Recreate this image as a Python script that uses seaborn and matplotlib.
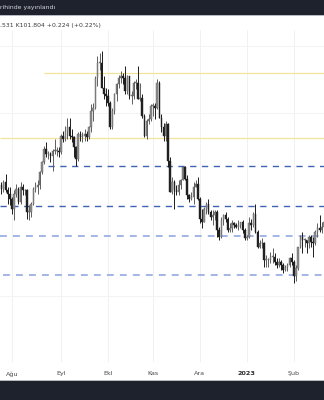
import numpy as np
import pandas as pd
import matplotlib
matplotlib.use("Agg")
import matplotlib.pyplot as plt
import seaborn as sns
from matplotlib.patches import Rectangle

# ---------------- data ----------------
start_date = "2022-07-25"
opens = [106.7, 106.5, 106.9, 106.4, 106.2, 105.9, 105.3, 106.2, 106.5, 105.7,
         106.6, 106.4, 106.4, 105.1, 105.1, 105.6, 106.5, 106.6, 106.7, 107.5,
         108.1, 108.9, 108.6, 108.6, 108.5, 108.8, 108.8, 108.8, 108.7, 109.7,
         109.5, 110.0, 110.2, 109.7, 109.6, 109.0, 108.3, 109.8, 109.6, 109.7,
         109.8, 109.6, 110.2, 111.2, 111.4, 113.2, 114.1, 114.1, 112.6, 112.2,
         112.1, 111.7, 110.2, 111.2, 112.2, 112.8, 113.2, 113.3, 113.2, 112.4,
         113.3, 112.1, 112.1, 112.9, 112.9, 111.9, 112.0, 110.9, 109.7, 110.6,
         110.7, 111.5, 111.5, 111.4, 112.9, 110.8, 110.2, 109.7, 110.4, 108.2,
         106.3, 106.9, 106.4, 106.3, 106.7, 107.0, 107.8, 107.1, 106.1, 105.9,
         106.0, 106.6, 106.8, 105.9, 104.7, 104.5, 105.3, 105.6, 105.1, 104.8,
         104.9, 105.1, 104.0, 103.6, 104.6, 104.9, 104.7, 104.0, 104.1, 104.4,
         104.3, 104.2, 104.3, 104.5, 104.0, 103.5, 103.6, 104.4, 104.3, 105.0,
         103.9, 103.0, 103.2, 103.2, 102.2, 102.2, 102.2, 102.4, 102.4, 102.1,
         101.9, 102.1, 101.9, 101.6, 101.8, 101.9, 102.3, 102.1, 101.2, 101.7,
         103.0, 103.6, 103.4, 103.4, 103.2, 103.6, 103.3, 103.2, 103.9, 104.1,
         104.0, 104.2]
highs = [106.9, 107.0, 107.4, 106.6, 106.6, 106.0, 106.4, 106.8, 106.6, 106.9,
         106.8, 106.5, 106.5, 105.5, 105.7, 106.6, 106.9, 107.0, 107.6, 108.2,
         109.1, 109.3, 108.8, 108.7, 108.9, 109.5, 109.0, 109.0, 109.8, 110.0,
         110.3, 110.8, 110.8, 110.1, 109.7, 109.1, 109.9, 110.0, 109.9, 110.1,
         110.0, 110.3, 111.6, 111.7, 113.3, 114.5, 114.7, 114.8, 113.3, 112.6,
         112.5, 111.8, 111.4, 112.3, 112.9, 113.4, 113.6, 113.5, 113.9, 113.4,
         113.3, 112.4, 113.0, 113.1, 113.9, 112.9, 112.2, 111.0, 110.7, 111.0,
         111.6, 111.7, 111.7, 113.1, 113.0, 111.0, 110.5, 110.6, 110.5, 108.4,
         107.2, 107.0, 106.7, 107.0, 107.1, 107.9, 107.9, 107.3, 106.2, 106.3,
         106.9, 107.0, 107.2, 106.0, 105.3, 105.4, 105.7, 105.9, 105.2, 105.2,
         105.2, 105.2, 104.2, 104.8, 105.0, 105.1, 104.8, 104.4, 104.6, 104.5,
         104.4, 104.6, 104.5, 104.6, 104.1, 103.7, 104.8, 104.7, 105.1, 105.6,
         104.0, 103.4, 103.5, 103.3, 102.5, 102.3, 102.7, 102.9, 102.6, 102.3,
         102.3, 102.2, 102.0, 101.9, 102.0, 102.4, 102.6, 102.2, 101.9, 103.0,
         103.7, 103.9, 103.5, 103.4, 103.7, 103.7, 103.6, 104.0, 104.4, 104.9,
         104.5, 104.7]
lows = [106.2, 106.3, 106.3, 105.6, 105.5, 105.0, 104.6, 106.0, 105.6, 105.6,
        106.1, 106.1, 104.7, 104.6, 104.8, 105.5, 106.3, 106.2, 106.5, 107.4,
        108.0, 108.4, 108.3, 108.1, 107.6, 108.6, 108.5, 108.4, 108.6, 109.3,
        109.4, 109.5, 109.5, 109.3, 108.4, 107.9, 108.2, 109.4, 109.3, 109.4,
        109.4, 109.5, 109.9, 110.6, 111.3, 112.7, 113.7, 112.6, 111.9, 111.5,
        111.5, 110.1, 110.1, 111.0, 111.8, 112.6, 112.9, 112.8, 112.2, 112.2,
        111.9, 111.6, 111.9, 112.5, 111.9, 111.8, 110.8, 109.6, 109.5, 110.4,
        110.6, 110.9, 110.7, 111.3, 110.8, 109.9, 109.4, 109.4, 107.8, 106.3,
        106.2, 105.3, 106.1, 106.1, 106.5, 107.0, 107.0, 105.9, 105.7, 105.8,
        105.6, 106.6, 105.8, 104.4, 104.1, 104.5, 105.0, 105.0, 104.6, 104.3,
        104.6, 103.6, 103.4, 103.5, 104.3, 104.5, 103.9, 103.9, 103.9, 104.1,
        104.1, 104.0, 104.1, 103.8, 103.4, 103.4, 103.5, 104.0, 104.2, 103.8,
        102.9, 102.9, 102.9, 101.8, 101.8, 101.8, 102.0, 102.0, 101.9, 101.7,
        101.8, 101.6, 101.4, 101.5, 101.5, 101.8, 101.9, 100.8, 100.9, 101.6,
        102.9, 102.6, 103.0, 102.6, 102.9, 103.0, 102.4, 103.1, 103.6, 103.9,
        103.8, 103.9]
closes = [106.5, 106.9, 106.4, 106.2, 105.9, 105.3, 106.2, 106.5, 105.7, 106.6,
          106.4, 106.4, 105.1, 105.1, 105.6, 106.5, 106.6, 106.7, 107.5, 108.1,
          108.9, 108.6, 108.6, 108.5, 108.8, 108.8, 108.8, 108.7, 109.7, 109.5,
          110.0, 110.2, 109.7, 109.6, 109.0, 108.3, 109.8, 109.6, 109.7, 109.8,
          109.6, 110.2, 111.2, 111.4, 113.2, 114.1, 114.1, 112.6, 112.2, 112.1,
          111.7, 110.2, 111.2, 112.2, 112.8, 113.2, 113.3, 113.2, 112.4, 113.3,
          112.1, 112.1, 112.9, 112.9, 111.9, 112.0, 110.9, 109.7, 110.6, 110.7,
          111.5, 111.5, 111.4, 112.9, 110.8, 110.2, 109.7, 110.4, 108.2, 106.3,
          106.9, 106.4, 106.3, 106.7, 107.0, 107.8, 107.1, 106.1, 105.9, 106.0,
          106.6, 106.8, 105.9, 104.7, 104.5, 105.3, 105.6, 105.1, 104.8, 104.9,
          105.1, 104.0, 103.6, 104.6, 104.9, 104.7, 104.0, 104.1, 104.4, 104.3,
          104.2, 104.3, 104.5, 104.0, 103.5, 103.6, 104.4, 104.3, 105.0, 103.9,
          103.0, 103.2, 103.2, 102.2, 102.2, 102.2, 102.4, 102.4, 102.1, 101.9,
          102.1, 101.9, 101.6, 101.8, 101.9, 102.3, 102.1, 101.2, 101.7, 103.0,
          103.6, 103.4, 103.4, 103.2, 103.6, 103.3, 103.2, 103.9, 104.1, 104.0,
          104.2, 104.5]

month_dates = ["2022-08-01", "2022-09-01", "2022-10-03", "2022-11-01",
               "2022-12-01", "2023-01-02", "2023-02-01"]
month_labels = ["Ağu", "Eyl", "Ekl", "Kas", "Ara", "2023", "Şub"]

yellow_levels = [113.5, 109.56]
yellow_starts = ["2022-08-22", "2022-07-22"]
blue_levels = [107.9, 105.45]
blue_starts = ["2022-08-24", "2022-07-22"]
lightblue_levels = [103.64, 101.3]
lightblue_starts = ["2022-07-22", "2022-07-26"]

header_text = "rihinde yayınlandı"
quote_text = ".531 K101.804 +0.224 (+0.22%)"

# ---------------- figure ----------------
sns.set_theme(style="white")
plt.rcParams["font.family"] = ["DejaVu Sans"]

W, H = 324, 400
fig = plt.figure(figsize=(W / 100, H / 100), dpi=100)
fig.patch.set_facecolor("white")

ax_bottom_px, ax_top_px = 362, 30
ax = fig.add_axes([0, (H - ax_bottom_px) / H, 1, (ax_bottom_px - ax_top_px) / H])
ax.set_facecolor("white")

n = len(closes)
dates = pd.bdate_range(start_date, periods=n)
df = pd.DataFrame({"date": dates, "open": opens, "high": highs,
                   "low": lows, "close": closes})
df["idx"] = np.arange(n)
df["up"] = df["close"] >= df["open"]
date_to_idx = {d: i for i, d in enumerate(dates)}

def pos_of(datestr):
    d = pd.Timestamp(datestr)
    if d in date_to_idx:
        return date_to_idx[d]
    return (d - dates[0]).days * 5 / 7

xmin, xmax = -0.6, 151.1
ax.set_xlim(xmin, xmax)
ax.set_ylim(96.03, 116.09)

# faint grid
month_pos = [pos_of(d) for d in month_dates]
for p in month_pos:
    ax.axvline(p, color="#f1f1f4", lw=0.7, zorder=0)
for yv in [100.0, 111.1, 115.1]:
    ax.axhline(yv, color="#f3f3f6", lw=0.7, zorder=0)

# level lines
for lvl, st in zip(yellow_levels, yellow_starts):
    ax.hlines(lvl, max(pos_of(st), xmin), xmax, color="#f2e39a", lw=0.9, zorder=1)
for lvl, st in zip(blue_levels, blue_starts):
    ax.hlines(lvl, max(pos_of(st), xmin), xmax, color="#3f62b3", lw=1.0,
              linestyles=(0, (4.5, 4.0)), zorder=1)
for lvl, st in zip(lightblue_levels, lightblue_starts):
    ax.hlines(lvl, max(pos_of(st), xmin), xmax, color="#8aa2dc", lw=1.1,
              linestyles=(0, (4.5, 4.0)), zorder=1)

# candles
wick_col = np.where(df["up"], "#5e5e5e", "#1c1c1c")
ax.vlines(df["idx"], df["low"], df["high"], colors=wick_col, lw=0.7, zorder=2)
body_bottom = np.minimum(df["open"], df["close"])
body_h = np.maximum(np.abs(df["close"] - df["open"]), 0.05)
body_col = np.where(df["up"], "#8f8f8f", "#222222")
ax.bar(df["idx"], body_h, bottom=body_bottom, width=0.7, color=body_col,
       edgecolor=wick_col, linewidth=0.3, zorder=3)

# axes styling
for s in ax.spines.values():
    s.set_visible(False)
ax.set_yticks([])
ax.set_xticks(month_pos)
ax.set_xticklabels(month_labels)
ax.tick_params(axis="x", length=0, pad=6.5, labelsize=4.6, labelcolor="#4a4a4a")
for lab in ax.get_xticklabels():
    if lab.get_text() == "2023":
        lab.set_fontweight("bold")
        lab.set_color("#2a2a2a")
ax.set_xlabel("")
ax.set_ylabel("")

# top and bottom dark bands
fig.patches.append(Rectangle((0, 1 - 15 / H), 1, 15 / H, transform=fig.transFigure,
                             facecolor="#1e222d", edgecolor="none", zorder=5))
fig.patches.append(Rectangle((0, 1 - 16 / H), 1, 1 / H, transform=fig.transFigure,
                             facecolor="#b8bac2", edgecolor="none", zorder=5))
fig.patches.append(Rectangle((0, 0), 1, 19 / H, transform=fig.transFigure,
                             facecolor="#1e222d", edgecolor="none", zorder=5))
fig.patches.append(Rectangle((0, 19 / H), 1, 1 / H, transform=fig.transFigure,
                             facecolor="#b8bac2", edgecolor="none", zorder=5))

fig.text(0.0, 1 - 7.5 / H, header_text, color="#d6d8de", fontsize=4.4,
         va="center", ha="left", zorder=6)
fig.text(0.0, 1 - 25 / H, quote_text, color="#3a3a3a", fontsize=4.4,
         va="center", ha="left", zorder=6)

fig.savefig("out.png", dpi=100, facecolor="white")
